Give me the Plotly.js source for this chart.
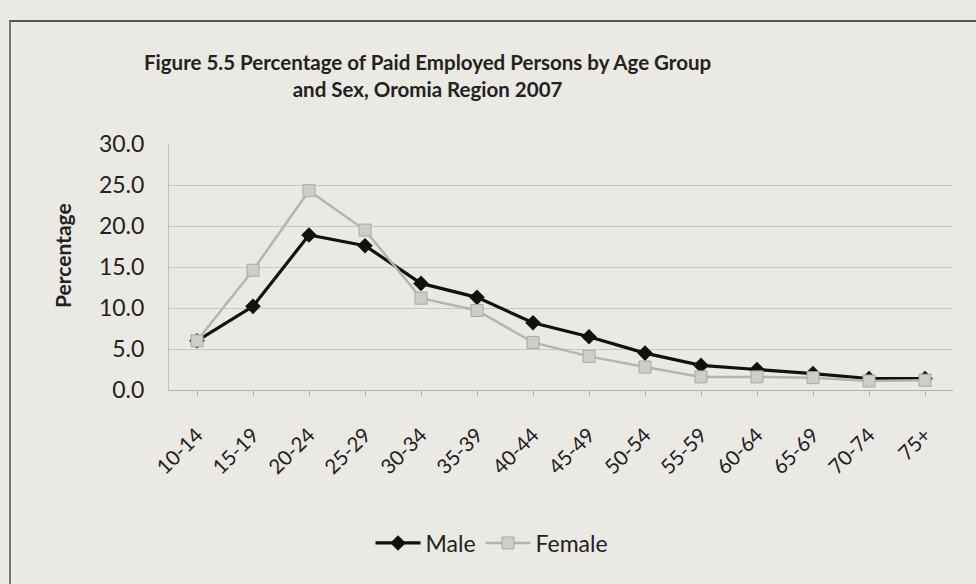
<!DOCTYPE html>
<html><head><meta charset="utf-8">
<script src="https://cdn.plot.ly/plotly-3.0.1.min.js"></script>
<style>
html,body{margin:0;padding:0;background:#ebe9e4;}
#wrap{position:relative;width:976px;height:584px;overflow:hidden;}
#chart{position:absolute;left:0;top:0;width:976px;height:584px;}
#frame{position:absolute;left:9px;top:20px;width:980px;height:600px;border-left:2px solid #777;border-top:2px solid #555;pointer-events:none;}
</style></head>
<body><div id="wrap"><div id="chart"></div><div id="frame"></div></div>
<script>
const ageGroups = ["10-14","15-19","20-24","25-29","30-34","35-39","40-44","45-49","50-54","55-59","60-64","65-69","70-74","75+"];
const male   = [6.0,10.2,18.9,17.6,13.0,11.3,8.2,6.5,4.5,3.0,2.5,2.0,1.4,1.4];
const female = [6.0,14.6,24.3,19.5,11.2,9.7,5.8,4.1,2.8,1.6,1.6,1.5,1.1,1.2];
const yTicks = [0,5,10,15,20,25,30];

const font = "Lato, 'Open Sans', sans-serif";
const traces = [
  {x: ageGroups, y: male, name: "Male", type: "scatter", mode: "lines+markers",
   line: {color: "#111111", width: 3.2}, marker: {symbol: "diamond", size: 12, color: "#111111"}},
  {x: ageGroups, y: female, name: "Female", type: "scatter", mode: "lines+markers",
   line: {color: "#b4b4b2", width: 2.5}, marker: {symbol: "square", size: 12, color: "#cfcdc8", line: {color: "#a8a8a6", width: 1}}}
];
const layout = {
  width: 976, height: 584,
  paper_bgcolor: "rgba(0,0,0,0)", plot_bgcolor: "rgba(0,0,0,0)",
  margin: {l: 169, r: 23, t: 144, b: 194},
  font: {family: font, color: "#222"},
  showlegend: true,
  legend: {orientation: "h", x: 0.412, xanchor: "center", y: -0.622, yanchor: "middle",
           font: {size: 23, color: "#222"}, bgcolor: "rgba(0,0,0,0)", itemwidth: 45},
  xaxis: {type: "category", showgrid: false, showline: true, linecolor: "#b0b0b0", linewidth: 1,
          ticks: "outside", ticklen: 5, tickcolor: "#b0b0b0", tickangle: -45,
          tickfont: {size: 20.5, color: "#222"}, zeroline: false, range: [-0.5, 13.5],
          ticklabelstandoff: 19},
  yaxis: {range: [0, 30], tickvals: yTicks, tickformat: ".1f", showgrid: true, gridcolor: "#c9c7c2",
          gridwidth: 1, showline: true, linecolor: "#c0c0c0", zeroline: false,
          tickfont: {size: 23, color: "#222"}, ticks: "", ticklabelstandoff: 19},
  annotations: [
    {text: "<b>Figure 5.5 Percentage of Paid Employed Persons by Age Group</b><br><b>and Sex, Oromia Region 2007</b>",
     xref: "paper", yref: "paper", x: (427-169)/784, y: (390-75)/246, xanchor: "center", yanchor: "middle",
     showarrow: false, font: {size: 20.5, color: "#222", family: font}, align: "center"},
    {text: "<b>Percentage</b>", textangle: -90, xref: "paper", yref: "paper",
     x: (62-169)/784, y: (390-256)/246, xanchor: "center", yanchor: "middle", showarrow: false,
     font: {size: 21, color: "#222", family: font}}
  ]
};
Plotly.newPlot("chart", traces, layout, {displayModeBar: false, staticPlot: true});
</script></body></html>
